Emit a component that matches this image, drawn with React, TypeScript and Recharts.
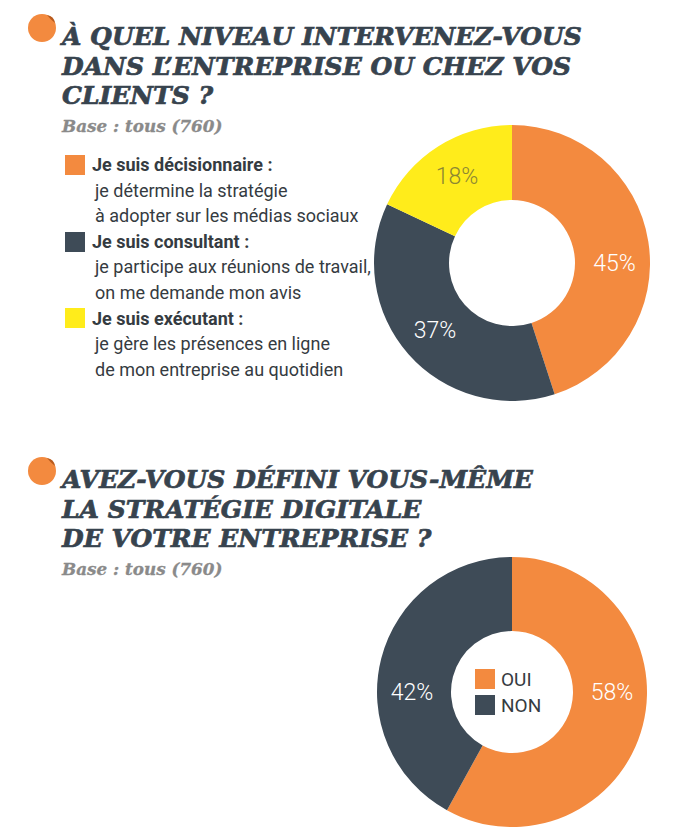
import { PieChart, Pie, Cell, Legend } from 'recharts';

const title1 = ['À QUEL NIVEAU INTERVENEZ-VOUS', 'DANS L’ENTREPRISE OU CHEZ VOS', 'CLIENTS ?'];
const title2 = ['AVEZ-VOUS DÉFINI VOUS-MÊME', 'LA STRATÉGIE DIGITALE', 'DE VOTRE ENTREPRISE ?'];
const baseNote = 'Base : tous (760)';

const levelNames = ['Je suis décisionnaire :', 'Je suis consultant :', 'Je suis exécutant :'];
const levelDetails = [
  ['je détermine la stratégie', 'à adopter sur les médias sociaux'],
  ['je participe aux réunions de travail,', 'on me demande mon avis'],
  ['je gère les présences en ligne', 'de mon entreprise au quotidien'],
];
const levelValues = [45, 37, 18];

const strategyNames = ['OUI', 'NON'];
const strategyValues = [58, 42];

const ORANGE = '#F38A3F';
const SLATE = '#3E4B57';
const YELLOW = '#FFEC1B';
const levelColors = [ORANGE, SLATE, YELLOW];
const levelLabelColors = ['#ffffff', '#ffffff', '#8c8733'];
const strategyColors = [ORANGE, SLATE];

// designer put some labels flat instead of on the mid angle
const levelLabelAngles = [0, null, null];
const strategyLabelAngles = [0, 180];

const levelData = levelNames.map((name, i) => ({ name, value: levelValues[i] }));
const strategyData = strategyNames.map((name, i) => ({ name, value: strategyValues[i] }));

const RAD = Math.PI / 180;

const makeLabel = (angles: (number | null)[], colors: string[]) => (p: any) => {
  const a = angles[p.index] ?? p.midAngle;
  const r = (p.innerRadius + p.outerRadius) / 2 + 2;
  const x = p.cx + r * Math.cos(-a * RAD);
  const y = p.cy + r * Math.sin(-a * RAD);
  return (
    <text x={x} y={y} fill={colors[p.index]} textAnchor="middle" dominantBaseline="central"
      fontFamily="Roboto" fontWeight={300} fontSize={23}>
      {p.value}%
    </text>
  );
};

const TITLE_COLOR = '#37434e';

function Bullet({ x, y }: { x: number; y: number }) {
  return (
    <g>
      <circle cx={x} cy={y} r={14} fill={ORANGE} />
      <path d={`M${x + 5} ${y - 13} Q${x + 12} ${y - 12} ${x + 13} ${y - 5} Q${x + 8} ${y - 9} ${x + 5} ${y - 13} Z`} fill="#b85a1c" />
    </g>
  );
}

function Heading({ lines, top }: { lines: string[]; top: number }) {
  return (
    <g>
      <Bullet x={42} y={top - 17} />
      {lines.map((l, i) => (
        <text key={i} x={62} y={top + i * 29.5} fill={TITLE_COLOR} stroke={TITLE_COLOR} strokeWidth={0.7}
          fontFamily="DejaVu Serif" fontWeight="bold" fontStyle="italic" fontSize={25}>{l}</text>
      ))}
      <text x={62} y={top + 87} fill="#8a8a8a" stroke="#8a8a8a" strokeWidth={0.3} fontFamily="DejaVu Serif"
        fontWeight="bold" fontStyle="italic" fontSize={16.8}>{baseNote}</text>
    </g>
  );
}

const levelLegend = () => (
  <div style={{ fontFamily: 'Roboto', color: '#353b41', fontSize: 18 }}>
    {levelNames.map((n, i) => (
      <div key={n}>
        <div style={{ display: 'flex', alignItems: 'center', height: 25.6 }}>
          <span style={{ width: 20, height: 20, background: levelColors[i], display: 'inline-block', marginRight: 7 }} />
          <span style={{ fontWeight: 700 }}>{n}</span>
        </div>
        {levelDetails[i].map((d) => (
          <div key={d} style={{ height: 25.6, lineHeight: '25.6px', paddingLeft: 30 }}>{d}</div>
        ))}
      </div>
    ))}
  </div>
);

const strategyLegend = () => (
  <div style={{ fontFamily: 'Roboto', color: '#353b41', fontSize: 19 }}>
    {strategyNames.map((n, i) => (
      <div key={n} style={{ display: 'flex', alignItems: 'center', height: 26 }}>
        <span style={{ width: 20, height: 20, background: strategyColors[i], display: 'inline-block', marginRight: 6 }} />
        <span>{n}</span>
      </div>
    ))}
  </div>
);

export default function App() {
  return (
    <div style={{ position: 'absolute', left: 0, top: 0, width: 700, height: 840, background: '#fff', overflow: 'hidden' }}>
      <div style={{ position: 'absolute', left: 0, top: 0 }}>
        <PieChart width={700} height={420}>
          <Pie data={levelData} dataKey="value" nameKey="name" cx={507} cy={258}
            innerRadius={63} outerRadius={138} startAngle={90} endAngle={-270}
            stroke="none" labelLine={false} label={makeLabel(levelLabelAngles, levelLabelColors)}
            isAnimationActive={false}>
            {levelData.map((d, i) => <Cell key={d.name} fill={levelColors[i]} />)}
          </Pie>
          <Legend content={levelLegend} wrapperStyle={{ position: 'absolute', left: 65, top: 152, width: 330 }} />
        </PieChart>
      </div>
      <div style={{ position: 'absolute', left: 0, top: 420 }}>
        <PieChart width={700} height={420}>
          <Pie data={strategyData} dataKey="value" nameKey="name" cx={507} cy={267}
            innerRadius={61} outerRadius={135} startAngle={90} endAngle={-270}
            stroke="none" labelLine={false} label={makeLabel(strategyLabelAngles, ['#ffffff', '#ffffff'])}
            isAnimationActive={false}>
            {strategyData.map((d, i) => <Cell key={d.name} fill={strategyColors[i]} />)}
          </Pie>
          <Legend content={strategyLegend} wrapperStyle={{ position: 'absolute', left: 475, top: 246, width: 80 }} />
        </PieChart>
      </div>
      <svg width={700} height={840} style={{ position: 'absolute', left: 0, top: 0, pointerEvents: 'none' }}>
        <Heading lines={title1} top={45} />
        <Heading lines={title2} top={488} />
      </svg>
    </div>
  );
}
